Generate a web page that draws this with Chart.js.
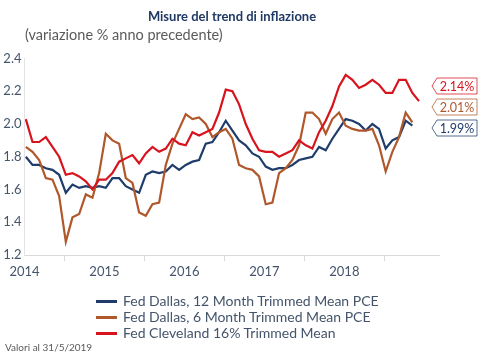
<!DOCTYPE html>
<html>
<head>
<meta charset="utf-8">
<script src="https://cdn.jsdelivr.net/npm/chart.js@4"></script>
<style>
  body { margin: 0; background: #fff; }
  #wrap { position: relative; width: 485px; height: 360px; font-family: Lato, sans-serif; }
  #chart { position: absolute; left: 0; top: 0; }
  .txt { position: absolute; white-space: nowrap; }
  #title { left: 0; width: 464px; top: 8px; text-align: center; font-weight: bold; font-size: 13px; color: #1f3864; }
  #subtitle { left: 25px; top: 26px; font-size: 14.5px; color: #5a5a5a; }
  #legend { position: absolute; left: 96px; top: 293px; }
  .item { height: 16px; line-height: 16px; font-size: 14px; color: #44546a; }
  .item span { display: inline-block; width: 21px; height: 2.5px; vertical-align: middle; margin-right: 6px; position: relative; top: -1px; }
  #note { left: 5px; top: 341px; font-size: 10px; color: #5a5a5a; }
</style>
</head>
<body>
<div id="wrap">
  <canvas id="chart" width="485" height="360"></canvas>
  <div class="txt" id="title">Misure del trend di inflazione</div>
  <div class="txt" id="subtitle">(variazione % anno precedente)</div>
  <div id="legend"></div>
  <div class="txt" id="note">Valori al 31/5/2019</div>
</div>
<script>
// year labels on the x axis (one per 12 months)
const yearLabels = ["2014", "2015", "2016", "2017", "2018"];

// monthly values, % y/y
const dallas12 = [1.80, 1.75, 1.75, 1.73, 1.72, 1.69, 1.58, 1.63, 1.61, 1.62, 1.61, 1.62,
  1.61, 1.67, 1.67, 1.62, 1.60, 1.58, 1.69, 1.71, 1.70, 1.71, 1.75, 1.72,
  1.75, 1.77, 1.78, 1.88, 1.89, 1.95, 2.02, 1.96, 1.90, 1.87, 1.82, 1.80,
  1.74, 1.72, 1.73, 1.73, 1.75, 1.78, 1.79, 1.80, 1.86, 1.84, 1.91, 1.97,
  2.03, 2.02, 2.00, 1.96, 2.00, 1.97, 1.85, 1.90, 1.92, 2.02, 1.99];
const dallas6 = [1.86, 1.83, 1.78, 1.67, 1.66, 1.56, 1.28, 1.43, 1.45, 1.57, 1.55, 1.70,
  1.94, 1.90, 1.88, 1.67, 1.64, 1.46, 1.44, 1.51, 1.52, 1.75, 1.88, 1.97,
  2.06, 2.03, 2.04, 2.00, 1.92, 1.95, 1.97, 1.91, 1.75, 1.73, 1.72, 1.68,
  1.51, 1.52, 1.70, 1.73, 1.78, 1.87, 2.07, 2.07, 2.03, 1.94, 2.03, 2.07,
  1.99, 1.97, 1.96, 1.96, 1.97, 1.87, 1.71, 1.83, 1.92, 2.07, 2.01];
const cleveland = [2.03, 1.89, 1.89, 1.92, 1.86, 1.80, 1.69, 1.70, 1.68, 1.65, 1.60, 1.66,
  1.66, 1.70, 1.77, 1.79, 1.81, 1.76, 1.82, 1.86, 1.83, 1.85, 1.91, 1.88,
  1.87, 1.95, 1.93, 1.95, 1.97, 2.07, 2.21, 2.20, 2.12, 2.00, 1.91, 1.84,
  1.83, 1.83, 1.80, 1.82, 1.84, 1.90, 1.87, 1.85, 1.95, 2.02, 2.11, 2.23,
  2.30, 2.27, 2.22, 2.24, 2.27, 2.24, 2.19, 2.19, 2.27, 2.27, 2.19, 2.14];

const seriesNames = ["Fed Dallas, 12 Month Trimmed Mean PCE", "Fed Dallas, 6 Month Trimmed Mean PCE", "Fed Cleveland 16% Trimmed Mean"];
const seriesColors = ["#1f3d6b", "#b0582c", "#d7141e"];
const lastLabels = ["1.99%", "2.01%", "2.14%"];

const toXY = (arr) => arr.map((v, i) => ({ x: i, y: v }));

// labels boxes at right (pointed tags)
const tagPlugin = {
  id: "tags",
  afterDraw(chart) {
    const ctx = chart.ctx;
    const tags = [
      { text: lastLabels[2], color: seriesColors[2], top: 78 },
      { text: lastLabels[1], color: seriesColors[1], top: 99 },
      { text: lastLabels[0], color: seriesColors[0], top: 120 },
    ];
    ctx.save();
    tags.forEach((t) => {
      const h = 16, l = 437, r = 477, tip = 432;
      ctx.beginPath();
      ctx.moveTo(tip, t.top + h / 2);
      ctx.lineTo(l, t.top);
      ctx.lineTo(r, t.top);
      ctx.lineTo(r, t.top + h);
      ctx.lineTo(l, t.top + h);
      ctx.closePath();
      ctx.fillStyle = "#fff";
      ctx.fill();
      ctx.globalAlpha = 0.75;
      ctx.strokeStyle = t.color;
      ctx.lineWidth = 1;
      ctx.stroke();
      ctx.globalAlpha = 1;
      ctx.fillStyle = t.color;
      ctx.font = "12.5px Lato";
      ctx.textAlign = "center";
      ctx.textBaseline = "middle";
      ctx.fillText(t.text, 457, t.top + h / 2 + 0.5);
    });
    ctx.restore();
  },
};

Chart.defaults.font.family = "Lato";

new Chart(document.getElementById("chart"), {
  type: "line",
  data: {
    datasets: [
      { label: seriesNames[2], data: toXY(cleveland), borderColor: seriesColors[2], order: 1 },
      { label: seriesNames[1], data: toXY(dallas6), borderColor: seriesColors[1], order: 2 },
      { label: seriesNames[0], data: toXY(dallas12), borderColor: seriesColors[0], order: 3 },
    ],
  },
  options: {
    responsive: false,
    animation: false,
    devicePixelRatio: 1,
    layout: { padding: { left: 0, top: 58.5, right: 46, bottom: 75 } },
    elements: {
      point: { radius: 0 },
      line: { borderWidth: 2.2, tension: 0, fill: false },
    },
    plugins: { legend: { display: false }, tooltip: { enabled: false } },
    scales: {
      x: {
        type: "linear",
        min: -0.2,
        max: 62,
        afterBuildTicks: (scale) => {
          scale.ticks = yearLabels.map((y, i) => ({ value: 5.8 + 12 * i }));
        },
        afterFit: (scale) => { scale.height = 30; },
        grid: { drawOnChartArea: false, drawTicks: true, tickLength: 6, color: "#d9d9d9" },
        border: { color: "#d9d9d9" },
        ticks: {
          autoSkip: false,
          maxRotation: 0,
          labelOffset: -40,
          padding: 3,
          color: "#44546a",
          font: { size: 13 },
          callback: (v, i) => yearLabels[i],
        },
      },
      y: {
        min: 1.2,
        max: 2.4,
        afterFit: (scale) => { scale.width = 24.5; },
        grid: { display: false, drawTicks: false },
        border: { display: true, color: "#e4e4e4" },
        ticks: {
          stepSize: 0.2,
          padding: 3,
          color: "#44546a",
          font: { size: 13 },
          callback: (v) => v.toFixed(1),
        },
      },
    },
  },
  plugins: [tagPlugin],
});

// legend
const legend = document.getElementById("legend");
seriesNames.forEach((name, i) => {
  const row = document.createElement("div");
  row.className = "item";
  row.innerHTML = '<span style="background:' + seriesColors[i] + '"></span>' + name;
  legend.appendChild(row);
});
</script>
</body>
</html>
